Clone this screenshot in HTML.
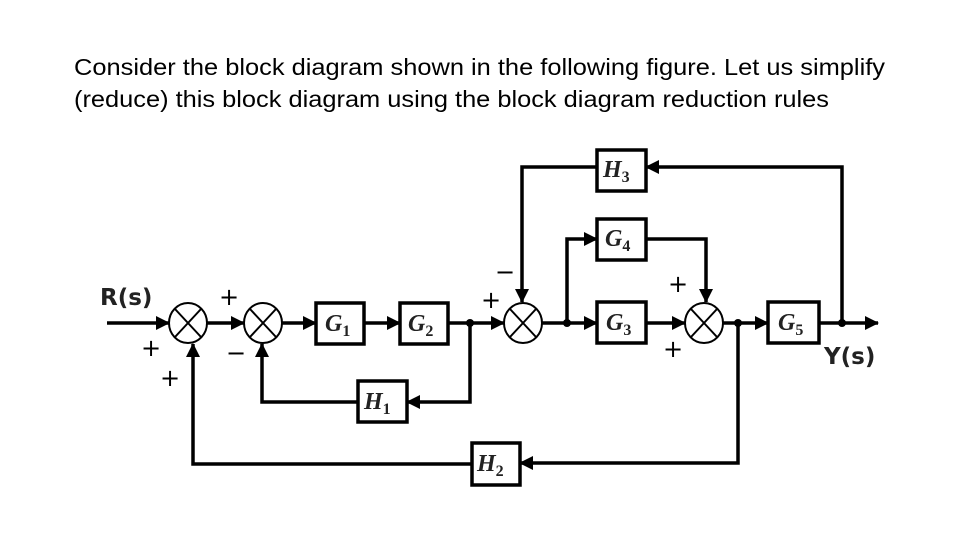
<!DOCTYPE html>
<html><head><meta charset="utf-8"><style>
html,body{margin:0;padding:0;background:#fff;}
svg{display:block;}
.t{font-family:"Liberation Sans",sans-serif;font-size:23px;fill:#000;}
.b{font-family:"Liberation Serif",serif;font-style:italic;font-weight:bold;font-size:24px;fill:#222;}
.s{font-size:16px;font-style:normal;}
.p{font-family:"DejaVu Sans",sans-serif;font-size:24px;fill:#000;}
.l{font-family:"DejaVu Sans",sans-serif;font-weight:bold;font-size:23px;fill:#222;}
</style></head><body>
<svg width="960" height="540" viewBox="0 0 960 540" xmlns="http://www.w3.org/2000/svg">
<defs><marker id="a" markerWidth="14" markerHeight="14" refX="13" refY="7" orient="auto" markerUnits="userSpaceOnUse"><path d="M0,0 L14,7 L0,14 z" fill="#000"/></marker></defs>
<text class="t" x="74" y="75" textLength="811" lengthAdjust="spacingAndGlyphs">Consider the block diagram shown in the following figure. Let us simplify</text>
<text class="t" x="74" y="107" textLength="755" lengthAdjust="spacingAndGlyphs">(reduce) this block diagram using the block diagram reduction rules</text>
<g stroke="#000" stroke-width="3.5" fill="none">
<line x1="107" y1="323" x2="169" y2="323" marker-end="url(#a)"/>
<line x1="207" y1="323" x2="244" y2="323" marker-end="url(#a)"/>
<line x1="282" y1="323" x2="316" y2="323" marker-end="url(#a)"/>
<line x1="364" y1="323" x2="400" y2="323" marker-end="url(#a)"/>
<line x1="448" y1="323" x2="504" y2="323" marker-end="url(#a)"/>
<polyline points="470,323 470,402 407,402" marker-end="url(#a)"/>
<polyline points="358,402 262,402 262,344" marker-end="url(#a)"/>
<polyline points="738,323 738,463 520,463" marker-end="url(#a)"/>
<polyline points="472,464 193,464 193,344" marker-end="url(#a)"/>
<line x1="542" y1="323" x2="597" y2="323" marker-end="url(#a)"/>
<polyline points="567,323 567,239 597,239" marker-end="url(#a)"/>
<polyline points="646,239 706,239 706,302" marker-end="url(#a)"/>
<line x1="646" y1="323" x2="685" y2="323" marker-end="url(#a)"/>
<line x1="723" y1="323" x2="768" y2="323" marker-end="url(#a)"/>
<line x1="819" y1="323" x2="878" y2="323" marker-end="url(#a)"/>
<polyline points="842,323 842,167 646,167" marker-end="url(#a)"/>
<polyline points="597,167 522,167 522,302" marker-end="url(#a)"/>
</g>
<g fill="#000"><circle cx="470" cy="323" r="4"/><circle cx="567" cy="323" r="4"/><circle cx="738" cy="323" r="4"/><circle cx="842" cy="323" r="4"/></g>
<g stroke="#000" stroke-width="2" fill="#fff">
<ellipse cx="188" cy="323" rx="19" ry="20"/><ellipse cx="263" cy="323" rx="19" ry="20"/>
<ellipse cx="523" cy="323" rx="19" ry="20"/><ellipse cx="704" cy="323" rx="19" ry="20"/>
</g>
<g stroke="#000" stroke-width="2">
<path d="M175,309 L201,337 M201,309 L175,337"/><path d="M250,309 L276,337 M276,309 L250,337"/>
<path d="M510,309 L536,337 M536,309 L510,337"/><path d="M691,309 L717,337 M717,309 L691,337"/>
</g>
<g stroke="#000" stroke-width="3.5" fill="#fff">
<rect x="316" y="303" width="48" height="41"/><rect x="400" y="303" width="48" height="41"/>
<rect x="358" y="381" width="49" height="41"/><rect x="472" y="443" width="48" height="42"/>
<rect x="597" y="150" width="49" height="41"/><rect x="597" y="219" width="49" height="41"/>
<rect x="597" y="302" width="49" height="41"/><rect x="768" y="302" width="51" height="41"/>
</g>
<text class="b" x="325" y="331">G<tspan class="s" dy="5">1</tspan></text>
<text class="b" x="408" y="331">G<tspan class="s" dy="5">2</tspan></text>
<text class="b" x="364" y="409">H<tspan class="s" dy="5">1</tspan></text>
<text class="b" x="477" y="471">H<tspan class="s" dy="5">2</tspan></text>
<text class="b" x="603" y="177">H<tspan class="s" dy="5">3</tspan></text>
<text class="b" x="605" y="246">G<tspan class="s" dy="5">4</tspan></text>
<text class="b" x="606" y="330">G<tspan class="s" dy="5">3</tspan></text>
<text class="b" x="778" y="330">G<tspan class="s" dy="5">5</tspan></text>
<text class="l" x="100" y="305">R(s)</text>
<text class="l" x="824" y="364">Y(s)</text>
<text class="p" x="219" y="305">+</text><text class="p" x="141" y="356">+</text><text class="p" x="160" y="386">+</text>
<text class="p" x="226" y="361">−</text>
<text class="p" x="481" y="308">+</text><text class="p" x="495" y="280">−</text>
<text class="p" x="668" y="292">+</text><text class="p" x="663" y="357">+</text>
</svg>
</body></html>
